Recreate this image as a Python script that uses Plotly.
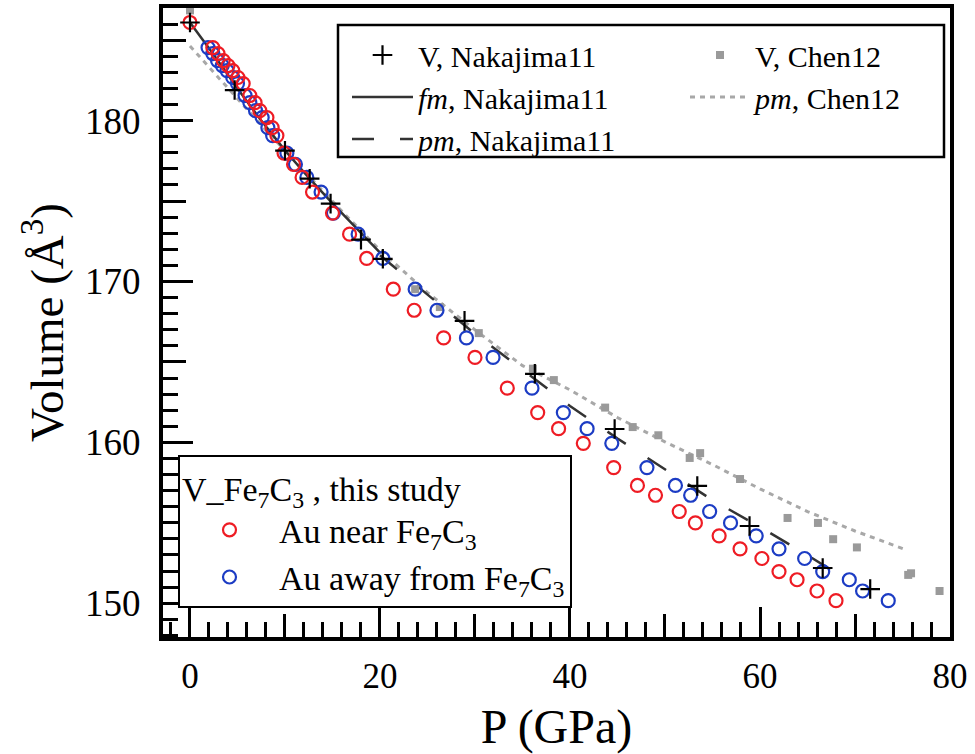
import plotly.graph_objects as go

# ---------------- data ----------------
# Nakajima11 volumes (crosses)
nak_P = [0.0, 4.7, 10.0, 12.6, 14.8, 18.0, 20.3, 28.9, 36.3, 44.7, 53.4, 58.9, 66.6, 71.6]
nak_V = [186.10, 181.90, 178.13, 176.39, 174.84, 172.60, 171.41, 167.55, 164.26, 160.83,
         157.29, 154.80, 152.19, 150.88]

# fm, Nakajima11 (solid curve)
fm_P = [0.0, 2.5, 5.0, 7.5, 10.0, 12.5, 15.0, 17.5, 20.0]
fm_V = [186.10, 184.10, 182.00, 180.00, 178.15, 176.45, 174.85, 173.30, 171.80]

# pm, Nakajima11 (dashed curve)
pmN_P = [20.0, 25.0, 30.0, 35.0, 40.0, 45.0, 50.0, 55.0, 60.0, 65.0, 68.0]
pmN_V = [171.63, 169.21, 166.74, 164.52, 162.26, 160.24, 158.33, 156.41, 154.74, 152.99, 151.88]

# Chen12 volumes (grey squares)
chen_P = [0.0, 23.7, 26.3, 30.4, 36.1, 38.3, 43.7, 46.6, 49.3, 52.6, 53.7, 57.9, 62.9,
          66.1, 67.7, 70.2, 75.6, 75.9, 78.9]
chen_V = [186.85, 169.52, 168.41, 166.79, 164.58, 163.87, 162.16, 160.95, 160.44, 159.03,
          159.33, 157.72, 155.30, 154.99, 153.98, 153.47, 151.76, 151.86, 150.76]

# pm, Chen12 (dotted curve)
pmC_P = [0.0, 4.0, 8.0, 12.0, 16.0, 20.0, 25.0, 30.0, 35.0, 40.0, 45.0, 50.0, 55.0, 60.0,
         65.0, 70.0, 75.1]
pmC_V = [184.64, 182.02, 179.40, 176.88, 174.36, 171.94, 169.31, 166.99, 164.77, 163.26,
         161.54, 160.03, 158.62, 157.11, 155.70, 154.49, 153.38]

# this study: Au near Fe7C3 (red)
near_P = [0.0, 2.4, 2.95, 3.5, 4.0, 4.5, 5.05, 5.6, 6.3, 6.85, 7.35, 8.1, 8.65, 9.15,
          9.9, 10.9, 11.8, 12.9, 15.0, 16.8, 18.6, 21.4, 23.6, 26.7, 30.0, 33.4, 36.6,
          38.8, 41.4, 44.6, 47.1, 49.0, 51.5, 53.2, 55.7, 57.9, 60.2, 62.0, 63.9, 66.0, 68.0]
near_V = [186.10, 184.54, 184.17, 183.73, 183.42, 183.11, 182.68, 182.30, 181.56, 181.12,
          180.62, 180.19, 179.56, 179.07,
          177.98, 177.28, 176.47, 175.56, 174.25, 172.94, 171.43, 169.52, 168.21, 166.49,
          165.28, 163.37, 161.85, 160.85, 159.94, 158.43, 157.32, 156.71, 155.70, 154.99,
          154.19, 153.38, 152.78, 151.97, 151.46, 150.76, 150.16]

# this study: Au away from Fe7C3 (blue)
away_P = [1.9, 2.4, 2.9, 3.4, 3.9, 4.5, 5.0, 5.8, 6.3, 6.9, 7.6, 8.2, 8.7,
          10.2, 11.1, 12.3, 13.8, 15.1, 17.7, 20.3, 23.7, 26.0, 29.1, 31.9, 36.0, 39.3,
          41.8, 44.4, 48.1, 51.1, 52.7, 54.7, 56.9, 59.6, 62.0, 64.7, 66.6, 69.4, 70.8, 73.5]
away_V = [184.54, 184.17, 183.73, 183.42, 183.11, 182.68, 182.30, 181.56, 181.12, 180.62,
          180.19, 179.56, 179.07,
          177.98, 177.28, 176.47, 175.56, 174.25, 172.94, 171.43, 169.52, 168.21, 166.49,
          165.28, 163.37, 161.85, 160.85, 159.94, 158.43, 157.32, 156.71, 155.70, 154.99,
          154.19, 153.38, 152.78, 151.97, 151.46, 150.76, 150.16]

x_range = [-2.84, 80.0]
y_range = [147.9, 187.0]
x_major = [0, 20, 40, 60, 80]
x_mid = [10, 30, 50, 70]
y_major = [150, 160, 170, 180]
y_mid = [155, 165, 175, 185]

FONT = "Liberation Serif, Times New Roman, Times, serif"
RED = "#ee1c24"
BLUE = "#1c3cc4"
DARK = "#333333"
GREY_LINE = "#a8a8a8"
GREY_PT = "#9a9a9a"

fig = go.Figure()

# curves
fig.add_trace(go.Scatter(x=pmC_P, y=pmC_V, mode="lines", name="<i>pm</i>, Chen12",
                         line=dict(color=GREY_LINE, width=3, dash="5px,5px"),
                         legend="legend2", legendrank=2))
fig.add_trace(go.Scatter(x=fm_P, y=fm_V, mode="lines", name="<i>fm</i>, Nakajima11",
                         line=dict(color=DARK, width=2.5), legend="legend", legendrank=2))
fig.add_trace(go.Scatter(x=pmN_P, y=pmN_V, mode="lines", name="<i>pm</i>, Nakajima11",
                         line=dict(color=DARK, width=2.5, dash="22px,26px"),
                         legend="legend", legendrank=3))
# points
fig.add_trace(go.Scatter(x=chen_P, y=chen_V, mode="markers", name="V, Chen12",
                         marker=dict(symbol="square", size=8, color=GREY_PT),
                         legend="legend2", legendrank=1))
fig.add_trace(go.Scatter(x=away_P, y=away_V, mode="markers",
                         name="Au away from Fe<sub>7</sub>C<sub>3</sub>",
                         marker=dict(symbol="circle-open", size=13, color=BLUE,
                                     line=dict(width=2.2, color=BLUE)),
                         legend="legend3", legendrank=2))
fig.add_trace(go.Scatter(x=near_P, y=near_V, mode="markers",
                         name="Au near Fe<sub>7</sub>C<sub>3</sub>",
                         marker=dict(symbol="circle-open", size=13, color=RED,
                                     line=dict(width=2.2, color=RED)),
                         legend="legend3", legendrank=1))
fig.add_trace(go.Scatter(x=nak_P, y=nak_V, mode="markers", name="V, Nakajima11",
                         marker=dict(symbol="cross-thin", size=14, color="black",
                                     line=dict(width=2.2, color="black")),
                         legend="legend", legendrank=1))

# empty trace on overlay axes that carry the medium-length ticks
fig.add_trace(go.Scatter(x=[], y=[], xaxis="x2", yaxis="y2", showlegend=False,
                         hoverinfo="skip"))

axis_common = dict(showgrid=False, zeroline=False, ticks="inside", tickwidth=3,
                   tickcolor="black", showline=True, linewidth=4, linecolor="black",
                   mirror=True, automargin=False)

fig.update_layout(
    width=975, height=754,
    margin=dict(l=163, r=25, t=8, b=117, autoexpand=False),
    paper_bgcolor="white", plot_bgcolor="white",
    font=dict(family=FONT, color="black"),
    xaxis=dict(range=x_range, tickmode="array", tickvals=x_major, ticklen=30,
               ticklabelstandoff=5,
               tickfont=dict(family=FONT, size=35, color="black"),
               minor=dict(ticks="inside", ticklen=15, tickwidth=3, tickcolor="black",
                          tick0=0, dtick=2),
               title=dict(text="P (GPa)", font=dict(family=FONT, size=48), standoff=16),
               **axis_common),
    yaxis=dict(range=y_range, tickmode="array", tickvals=y_major, ticklen=30,
               ticklabelstandoff=11,
               tickfont=dict(family=FONT, size=37, color="black"),
               minor=dict(ticks="inside", ticklen=15, tickwidth=3, tickcolor="black",
                          tick0=0, dtick=1),
               title=dict(text="Volume (Å<sup>3</sup>)", font=dict(family=FONT, size=47),
                          standoff=8),
               **axis_common),
    xaxis2=dict(overlaying="x", anchor="y2", side="bottom", range=x_range,
                tickmode="array", tickvals=x_mid, ticks="inside", ticklen=23,
                tickwidth=3, tickcolor="black", showticklabels=False, showline=False,
                showgrid=False, zeroline=False, automargin=False),
    yaxis2=dict(overlaying="y", anchor="x2", side="left", range=y_range,
                tickmode="array", tickvals=y_mid, ticks="inside", ticklen=23,
                tickwidth=3, tickcolor="black", showticklabels=False, showline=False,
                showgrid=False, zeroline=False, automargin=False),
    legend=dict(x=(347 - 163) / 787, y=(637 - 29) / 629, xanchor="left", yanchor="top",
                bgcolor="rgba(0,0,0,0)", borderwidth=0, itemwidth=61, tracegroupgap=0,
                font=dict(family=FONT, size=30, color="black")),
    legend2=dict(x=(685 - 163) / 787, y=(637 - 29) / 629, xanchor="left", yanchor="top",
                 bgcolor="rgba(0,0,0,0)", borderwidth=0, itemwidth=60, tracegroupgap=0,
                 font=dict(family=FONT, size=30, color="black")),
    legend3=dict(x=(178 - 163) / 787, y=(637 - 455) / 629, xanchor="left", yanchor="top",
                 bgcolor="white", bordercolor="black", borderwidth=2, itemwidth=89,
                 tracegroupgap=0,
                 title=dict(text="V_Fe<sub>7</sub>C<sub>3</sub> , this study",
                            font=dict(family=FONT, size=34, color="black")),
                 font=dict(family=FONT, size=34, color="black")),
    shapes=[dict(type="rect", xref="paper", yref="paper",
                 x0=(338 - 163) / 787, x1=(944 - 163) / 787,
                 y0=(637 - 157) / 629, y1=(637 - 25) / 629,
                 line=dict(color="black", width=2.5), fillcolor="white", layer="above")],
)

fig.write_html("out.html")
